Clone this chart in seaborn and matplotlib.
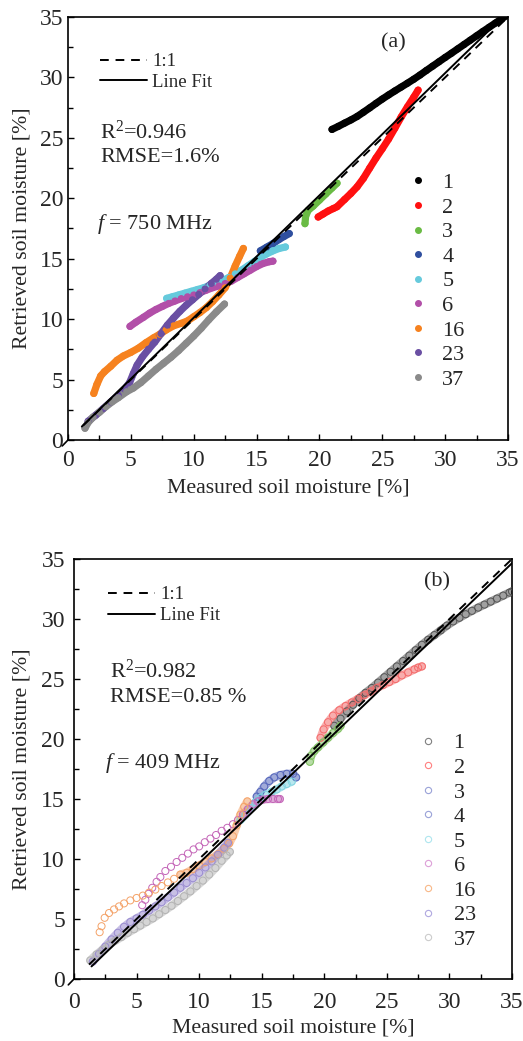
import numpy as np
import pandas as pd
import seaborn as sns
import matplotlib.pyplot as plt
from matplotlib.lines import Line2D
from matplotlib.ticker import MultipleLocator

sns.set_style("ticks")
plt.rcParams["font.family"] = ["Liberation Serif", "DejaVu Serif"]
plt.rcParams["mathtext.fontset"] = "custom"
plt.rcParams["mathtext.rm"] = "Liberation Serif"
plt.rcParams["mathtext.it"] = "Liberation Serif:italic"

sites = ["1", "2", "3", "4", "5", "6", "16", "23", "37"]

# ---------------- 750 MHz retrievals (measured, retrieved) [%] ----------------
a1_x = [21.0, 21.5, 22.0, 22.5, 23.0, 23.5, 24.0, 24.5, 25.0, 25.5, 26.0, 26.5, 27.0, 27.5,
        28.0, 28.5, 29.0, 29.5, 30.0, 30.5, 31.0, 31.5, 32.0, 32.5, 33.0, 33.5, 34.0, 34.5, 35.0]
a1_y = [25.7, 25.95, 26.22, 26.48, 26.77, 27.12, 27.48, 27.85, 28.21, 28.55, 28.88, 29.2, 29.52, 29.85,
        30.2, 30.57, 30.93, 31.29, 31.65, 32.0, 32.36, 32.72, 33.08, 33.44, 33.8, 34.15, 34.5, 34.85, 35.2]
a2_x = [19.9, 20.3, 20.7, 21.1, 21.4, 22.0, 22.5, 23.0, 23.5, 24.0, 24.5, 25.0, 25.5, 26.0,
        26.5, 27.0, 27.5, 27.85]
a2_y = [18.45, 18.7, 18.95, 19.15, 19.3, 19.9, 20.4, 20.95, 21.65, 22.5, 23.33, 24.1, 24.9, 25.8,
        26.72, 27.56, 28.36, 28.95]
a3_x = [18.85, 18.9, 19.1, 19.5, 20.0, 20.5, 21.0, 21.4]
a3_y = [17.9, 18.5, 19.0, 19.35, 19.85, 20.35, 20.85, 21.25]
a4_x = [15.3, 15.8, 16.3, 16.8, 17.2, 17.6]
a4_y = [15.65, 15.95, 16.25, 16.6, 16.85, 17.08]
a5_x = [7.85, 8.3, 8.8, 9.3, 9.8, 10.3, 10.8, 11.3, 11.8, 12.3, 12.8, 13.3, 13.8, 14.3, 14.8,
        15.3, 15.8, 16.3, 16.8, 17.3]
a5_y = [11.72, 11.85, 12.0, 12.15, 12.3, 12.45, 12.6, 12.8, 13.0, 13.2, 13.45, 13.75, 14.05, 14.4,
        14.75, 15.1, 15.4, 15.65, 15.85, 15.97]
a6_x = [4.93, 5.4, 6.0, 6.5, 7.0, 7.5, 8.0, 8.5, 9.0, 9.5, 10.0, 10.5, 11.0, 11.5, 12.0, 12.5,
        13.0, 13.5, 14.0, 14.5, 15.0, 15.5, 16.0, 16.3]
a6_y = [9.4, 9.75, 10.15, 10.5, 10.8, 11.05, 11.3, 11.5, 11.7, 11.85, 12.0, 12.2, 12.4, 12.6,
        12.75, 12.95, 13.15, 13.45, 13.75, 14.05, 14.35, 14.6, 14.75, 14.8]
a16_x = [2.05, 2.3, 2.6, 2.9, 3.4, 3.9, 4.4, 5.0, 5.6, 6.2, 6.8, 7.3, 7.8, 8.4, 9.0, 9.5, 10.0,
         10.5, 11.0, 11.5, 12.0, 12.5, 12.9, 13.3, 13.65, 13.95]
a16_y = [3.85, 4.6, 5.3, 5.65, 6.1, 6.6, 6.95, 7.25, 7.6, 8.05, 8.45, 8.75, 9.1, 9.45, 9.65, 9.85,
         10.2, 10.55, 10.95, 11.45, 12.0, 12.6, 13.4, 14.4, 15.2, 15.85]
a23_x = [1.6, 2.2, 2.8, 3.4, 4.0, 4.5, 4.9, 5.2, 5.5, 5.9, 6.4, 6.9, 7.4, 7.9, 8.4, 8.9, 9.4,
         9.9, 10.4, 10.9, 11.4, 11.8, 12.1]
a23_y = [1.55, 2.05, 2.6, 3.15, 3.7, 4.2, 4.75, 5.5, 6.2, 6.85, 7.5, 8.1, 8.8, 9.5, 10.1, 10.65,
         11.15, 11.6, 12.05, 12.5, 12.95, 13.3, 13.6]
a37_x = [1.35, 1.6, 2.0, 2.5, 3.0, 3.5, 4.0, 4.67, 5.2, 5.8, 6.4, 7.0, 7.6, 8.2, 8.8, 9.4, 10.0,
         10.6, 11.2, 11.8, 12.45]
a37_y = [0.97, 1.45, 1.9, 2.3, 2.75, 3.15, 3.5, 4.0, 4.3, 4.75, 5.3, 5.85, 6.35, 6.85, 7.4, 8.0,
         8.6, 9.25, 9.95, 10.6, 11.25]

# ---------------- 409 MHz retrievals (measured, retrieved) [%] ----------------
b1_x = [20.8, 21.3, 21.8, 22.3, 22.8, 23.3, 23.8, 24.3, 24.8, 25.3, 25.8, 26.3, 26.8, 27.3, 27.8,
        28.3, 28.8, 29.3, 29.8, 30.3, 30.8, 31.3, 31.8, 32.3, 32.8, 33.3, 33.8, 34.3, 34.8, 35.0]
b1_y = [21.1, 21.7, 22.3, 22.85, 23.4, 23.85, 24.25, 24.7, 25.15, 25.6, 26.05, 26.5, 26.95, 27.4,
        27.85, 28.27, 28.66, 29.05, 29.45, 29.8, 30.1, 30.4, 30.68, 30.95, 31.2, 31.45, 31.7,
        31.95, 32.2, 32.3]
b2_x = [19.7, 19.95, 20.3, 20.7, 21.2, 21.7, 22.2, 22.7, 23.2, 23.7, 24.2, 24.7, 25.2, 25.7,
        26.2, 26.7, 27.2, 27.5, 27.8]
b2_y = [20.1, 20.8, 21.4, 21.95, 22.4, 22.75, 23.05, 23.35, 23.65, 23.95, 24.25, 24.5, 24.75,
        25.0, 25.3, 25.55, 25.8, 25.95, 26.05]
b3_x = [18.85, 18.95, 19.2, 19.5, 19.9, 20.3, 20.7, 21.1, 21.3]
b3_y = [18.1, 18.6, 19.0, 19.3, 19.7, 20.1, 20.5, 20.85, 21.1]
b4_x = [14.6, 14.9, 15.2, 15.6, 16.0, 16.5, 17.0, 17.5, 17.75]
b4_y = [15.2, 15.6, 16.05, 16.5, 16.8, 17.0, 17.1, 17.1, 16.8]
b5_x = [13.3, 13.7, 14.1, 14.5, 14.9, 15.3, 15.8, 16.2, 16.6, 17.0, 17.4]
b5_y = [13.25, 13.7, 14.25, 14.75, 15.1, 15.35, 15.6, 15.8, 16.05, 16.25, 16.45]
b6_x = [5.45, 5.7, 5.95, 6.25, 6.6, 6.9, 7.3, 7.75, 8.2, 8.65, 9.1, 9.55, 10.0, 10.45, 10.9,
        11.35, 11.8, 12.25, 12.7, 13.1, 13.5, 13.9, 14.3, 14.7, 15.1, 15.5, 15.9, 16.3, 16.45]
b6_y = [6.15, 6.6, 7.1, 7.6, 8.1, 8.5, 9.0, 9.35, 9.75, 10.1, 10.45, 10.8, 11.05, 11.4, 11.7,
        12.0, 12.35, 12.6, 12.9, 13.25, 13.7, 14.15, 14.55, 14.8, 14.95, 15.0, 15.0, 15.0, 15.0]
b16_x = [2.05, 2.2, 2.45, 2.8, 3.2, 3.6, 4.0, 4.5, 5.0, 5.5, 6.0, 6.5, 7.0, 7.5, 8.0, 8.5, 9.0,
         9.5, 10.0, 10.5, 11.0, 11.5, 12.0, 12.4, 12.7, 13.0, 13.3, 13.6, 13.85]
b16_y = [3.9, 4.4, 5.1, 5.5, 5.8, 6.05, 6.3, 6.55, 6.75, 6.95, 7.2, 7.45, 7.75, 8.05, 8.35, 8.7,
         8.85, 9.15, 9.45, 9.75, 10.05, 10.4, 10.85, 11.3, 11.9, 12.8, 13.7, 14.35, 14.8]
b23_x = [1.5, 2.0, 2.5, 3.0, 3.5, 4.0, 4.5, 5.0, 5.5, 6.0, 6.5, 7.0, 7.5, 8.0, 8.5, 9.0, 9.5,
         10.0, 10.5, 11.0, 11.5, 12.0, 12.3]
b23_y = [1.45, 2.1, 2.7, 3.3, 3.85, 4.35, 4.75, 5.05, 5.35, 5.7, 6.05, 6.4, 6.8, 7.2, 7.6, 8.0,
         8.4, 8.85, 9.3, 9.8, 10.35, 10.95, 11.35]
b37_x = [1.3, 1.8, 2.3, 2.8, 3.3, 3.8, 4.3, 4.8, 5.3, 5.8, 6.3, 6.8, 7.3, 7.8, 8.3, 8.8, 9.3,
         9.8, 10.3, 10.8, 11.3, 11.8, 12.2, 12.45]
b37_y = [1.55, 2.05, 2.45, 2.85, 3.2, 3.5, 3.85, 4.15, 4.45, 4.75, 5.05, 5.4, 5.75, 6.1, 6.5,
         6.9, 7.3, 7.75, 8.2, 8.7, 9.25, 9.85, 10.3, 10.6]

# linear fits and statistics
fit_a_slope, fit_a_icpt = 1.012, 0.0
fit_b_slope, fit_b_icpt = 1.0, -0.35
fit_a_x = [1.1, 35.5]
fit_b_x = [1.4, 35.5]
one_to_one = [1.2, 35.0]
stats_a = ["R$^2$=0.946", "RMSE=1.6%", "$f$ = 750 MHz", "(a)"]
stats_b = ["R$^2$=0.982", "RMSE=0.85 %", "$f$ = 409 MHz", "(b)"]

colors_a = ["#000000", "#ff1010", "#6abb44", "#2f4f9f", "#66cadc",
            "#b24fa8", "#f6821f", "#6a4fa3", "#8a8a8a"]
colors_b = ["#555555", "#f46a6a", "#7fc060", "#5566bb", "#80d4e0",
            "#c466b8", "#f4a268", "#9a8cd0", "#b4b4b4"]
legend_b = ["#808080", "#ff8080", "#9aa2d8", "#9aa2d8", "#aee6ef",
            "#dda0d8", "#f8b888", "#b0a8e0", "#cccccc"]

ticks = [0, 5, 10, 15, 20, 25, 30, 35]


def long_table(xs, ys):
    frames = [pd.DataFrame({"site": s, "measured": x, "retrieved": y})
              for s, x, y in zip(sites, xs, ys)]
    return pd.concat(frames, ignore_index=True)


df_a = long_table([a1_x, a2_x, a3_x, a4_x, a5_x, a6_x, a16_x, a23_x, a37_x],
                  [a1_y, a2_y, a3_y, a4_y, a5_y, a6_y, a16_y, a23_y, a37_y])
df_b = long_table([b1_x, b2_x, b3_x, b4_x, b5_x, b6_x, b16_x, b23_x, b37_x],
                  [b1_y, b2_y, b3_y, b4_y, b5_y, b6_y, b16_y, b23_y, b37_y])

fig = plt.figure(figsize=(5.23, 10.41), dpi=100)
ax_a = fig.add_axes([68 / 523, 1 - 440 / 1041, 440 / 523, 423 / 1041])
ax_b = fig.add_axes([74 / 523, 1 - 979 / 1041, 438 / 523, 420 / 1041])

TICK_FS = 17
LABEL_FS = 15.7
TEXT_FS = 16
LEG_FS = 13.5


def style_axes(ax, xpad, ypad):
    ax.set_xlim(0, 35)
    ax.set_ylim(0, 35)
    ax.set_xticks(ticks)
    ax.set_yticks(ticks)
    ax.xaxis.set_minor_locator(MultipleLocator(2.5))
    ax.yaxis.set_minor_locator(MultipleLocator(2.5))
    ax.tick_params(which="both", direction="in", top=False, right=False,
                   width=1.0, color="black")
    ax.tick_params(which="major", length=4.5, labelsize=TICK_FS)
    ax.tick_params(which="minor", length=3.5)
    ax.tick_params(axis="x", pad=xpad)
    ax.tick_params(axis="y", pad=ypad)
    for sp in ax.spines.values():
        sp.set_linewidth(1.2)
        sp.set_color("black")
        sp.set_visible(True)
    ax.set_xlabel("Measured soil moisture [%]", fontsize=LABEL_FS)
    ax.set_ylabel("Retrieved soil moisture [%]", fontsize=LABEL_FS)
    # small break stroke at the origin
    ax.plot([0, -0.013], [0, -0.014], transform=ax.transAxes, color="black",
            lw=1.2, clip_on=False)


def draw_lines(ax, fit_x, slope, icpt):
    ax.plot(one_to_one, one_to_one, color="black", lw=1.4, ls=(0, (4.5, 3.5)), zorder=5)
    fx = np.array(fit_x)
    ax.plot(fx, slope * fx + icpt, color="black", lw=1.4, zorder=6)
    handles = [Line2D([], [], color="black", lw=1.4, ls=(0, (4.5, 3.5))),
               Line2D([], [], color="black", lw=1.4)]
    return handles


def annotate(ax, texts, pos):
    for t, (x, y, ha) in zip(texts, pos):
        ax.text(x, y, t, transform=ax.transAxes, fontsize=TEXT_FS, ha=ha, va="center")


# ---------------- panel (a): 750 MHz ----------------
pal_a = dict(zip(sites, colors_a))
sns.lineplot(data=df_a, x="measured", y="retrieved", hue="site", palette=pal_a,
             sort=False, estimator=None, lw=5.2, legend=False, ax=ax_a,
             solid_capstyle="round")
sns.scatterplot(data=df_a, x="measured", y="retrieved", hue="site", palette=pal_a,
                s=26, linewidth=0, legend=False, ax=ax_a, zorder=3)
style_axes(ax_a, xpad=7, ypad=3.5)
ax_a.yaxis.set_label_coords(-0.084, 0.5)
ax_a.xaxis.set_label_coords(0.5, -0.092)
h_a = draw_lines(ax_a, fit_a_x, fit_a_slope, fit_a_icpt)
leg1 = ax_a.legend(h_a, ["1:1", "Line Fit"], loc="upper left",
                   bbox_to_anchor=(0.072, 0.915), frameon=False, fontsize=LEG_FS,
                   handlelength=2.5, handletextpad=0.3, labelspacing=0.2,
                   borderpad=0, borderaxespad=0)
ax_a.add_artist(leg1)
site_h_a = [Line2D([], [], ls="", marker="o", ms=4, mfc=c, mec=c) for c in colors_a]
ax_a.legend(site_h_a, sites, loc="upper left", bbox_to_anchor=(0.78, 0.632),
            frameon=False, fontsize=TEXT_FS, handlelength=0.6, handletextpad=0.8,
            labelspacing=0.18, borderpad=0, borderaxespad=0)
annotate(ax_a, stats_a, [(0.073, 0.728, "left"), (0.073, 0.667, "left"),
                         (0.066, 0.511, "left"), (0.739, 0.939, "center")])

# ---------------- panel (b): 409 MHz ----------------
pal_b = dict(zip(sites, colors_b))
# translucent band under the densely packed parts of each record
band_b = df_b[~(((df_b["site"] == "6") & (df_b["measured"] < 13.5)) |
                ((df_b["site"] == "16") & (df_b["measured"] < 8.5)))]
sns.lineplot(data=band_b, x="measured", y="retrieved", hue="site", palette=pal_b,
             sort=False, estimator=None, lw=6.0, alpha=0.55, legend=False, ax=ax_b,
             solid_capstyle="round")
sns.scatterplot(data=df_b, x="measured", y="retrieved", hue="site", palette=pal_b,
                s=26, linewidth=0.7, legend=False, ax=ax_b, zorder=3)
pc = ax_b.collections[-1]
pc.set_edgecolors(pc.get_facecolors())
pc.set_facecolors("none")
style_axes(ax_b, xpad=9.5, ypad=6.5)
ax_b.yaxis.set_label_coords(-0.098, 0.5)
ax_b.xaxis.set_label_coords(0.5, -0.095)
h_b = draw_lines(ax_b, fit_b_x, fit_b_slope, fit_b_icpt)
leg2 = ax_b.legend(h_b, ["1:1", "Line Fit"], loc="upper left",
                   bbox_to_anchor=(0.077, 0.935), frameon=False, fontsize=LEG_FS,
                   handlelength=2.5, handletextpad=0.3, labelspacing=0.2,
                   borderpad=0, borderaxespad=0)
ax_b.add_artist(leg2)
site_h_b = [Line2D([], [], ls="", marker="o", ms=4.5, mfc="none", mec=c, mew=0.8)
            for c in legend_b]
ax_b.legend(site_h_b, sites, loc="upper left", bbox_to_anchor=(0.793, 0.586),
            frameon=False, fontsize=TEXT_FS, handlelength=0.6, handletextpad=0.85,
            labelspacing=0.18, borderpad=0, borderaxespad=0)
annotate(ax_b, stats_b, [(0.082, 0.733, "left"), (0.082, 0.671, "left"),
                         (0.071, 0.514, "left"), (0.829, 0.945, "center")])

fig.savefig("out.png", dpi=100)
